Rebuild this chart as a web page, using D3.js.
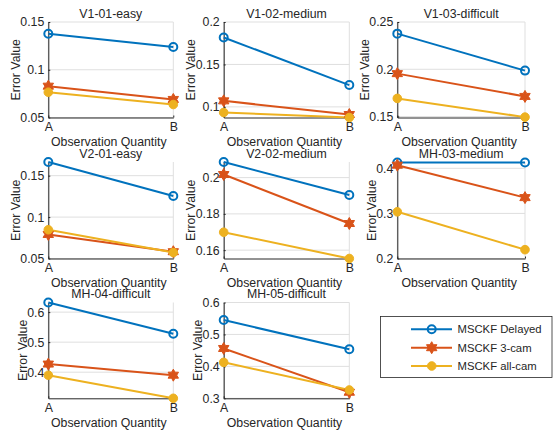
<!DOCTYPE html>
<html><head><meta charset="utf-8">
<script src="https://cdn.jsdelivr.net/npm/d3@7"></script>
<style>body{margin:0;background:#fff}svg{display:block}text{font-family:"Liberation Sans",Arial,sans-serif;fill:#262626}</style>
</head><body><svg id="c" width="560" height="433"></svg>
<script>
const datasetTitles = ["V1-01-easy","V1-02-medium","V1-03-difficult","V2-01-easy","V2-02-medium","MH-03-medium","MH-04-difficult","MH-05-difficult"];
const xCategories = ["A","B"];
const seriesNames = ["MSCKF Delayed","MSCKF 3-cam","MSCKF all-cam"];
const msckfDelayed = [[0.1377,0.1238],[0.1818,0.1257],[0.2377,0.1986],[0.1664,0.1254],[0.2086,0.1904],[0.413,0.413],[0.632,0.528],[0.545,0.4536]];
const msckf3cam    = [[0.0828,0.0689],[0.1071,0.0910],[0.1954,0.1713],[0.0790,0.0582],[0.2017,0.1747],[0.407,0.335],[0.427,0.390],[0.456,0.319]];
const msckfAllcam  = [[0.0765,0.0636],[0.0934,0.0875],[0.1692,0.1494],[0.0847,0.0572],[0.1699,0.1554],[0.3035,0.2196],[0.390,0.313],[0.4126,0.326]];
const yLimits = [[0.05,0.15],[0.0875,0.2],[0.149,0.25],[0.05,0.1665],[0.1554,0.2086],[0.2,0.414],[0.313,0.632],[0.3,0.6]];
const yTicks = [[0.05,0.1,0.15],[0.1,0.15,0.2],[0.15,0.2,0.25],[0.05,0.1,0.15],[0.16,0.18,0.2],[0.2,0.3,0.4],[0.4,0.5,0.6],[0.3,0.4,0.5,0.6]];

const colors = ["#0072BD","#D95319","#EDB120"];
const allSeries = [msckfDelayed, msckf3cam, msckfAllcam];
const colLeft = [48.3, 223.7, 397.3], colRight = [173.3, 349.3, 525];
const rowTop = [22, 162, 302.5], rowBot = [117.5, 258.5, 398.3];
const FS = 12.3;
const svg = d3.select("#c");

function hexagram(r){
  const pts=[];
  for(let i=0;i<12;i++){
    const a = -Math.PI/2 + i*Math.PI/6;
    const rr = i%2===0 ? r : r/Math.sqrt(3);
    pts.push([rr*Math.cos(a), rr*Math.sin(a)]);
  }
  return "M"+pts.map(p=>p.join(",")).join("L")+"Z";
}
function drawMarker(g, s, x, y){
  if(s===0){
    g.append("circle").attr("cx",x).attr("cy",y).attr("r",4).attr("fill","none").attr("stroke",colors[0]).attr("stroke-width",2);
  } else if(s===1){
    g.append("path").attr("d",hexagram(6)).attr("transform",`translate(${x},${y})`).attr("fill",colors[1]).attr("stroke",colors[1]).attr("stroke-width",1);
  } else {
    g.append("circle").attr("cx",x).attr("cy",y).attr("r",4.3).attr("fill",colors[2]).attr("stroke",colors[2]).attr("stroke-width",1);
  }
}

datasetTitles.forEach((title, i) => {
  const r = Math.floor(i/3), c = i%3;
  const x = d3.scalePoint().domain(xCategories).range([colLeft[c], colRight[c]]);
  const y = d3.scaleLinear().domain(yLimits[i]).range([rowBot[r], rowTop[r]]);
  const g = svg.append("g");
  // grid
  yTicks[i].forEach(t => {
    g.append("line").attr("x1",colLeft[c]).attr("x2",colRight[c]).attr("y1",y(t)).attr("y2",y(t)).attr("stroke","#dfdfdf").attr("stroke-width",1);
  });
  xCategories.forEach(cat => {
    g.append("line").attr("x1",x(cat)).attr("x2",x(cat)).attr("y1",rowTop[r]).attr("y2",rowBot[r]).attr("stroke","#dfdfdf").attr("stroke-width",1);
  });
  // axes
  const yAxis = d3.axisLeft(y).tickValues(yTicks[i]).tickFormat(d=>String(d)).tickSizeInner(-2).tickSizeOuter(0).tickPadding(4);
  const ya = g.append("g").attr("transform",`translate(${colLeft[c]},0)`).call(yAxis);
  const xAxis = d3.axisBottom(x).tickSizeInner(-2).tickSizeOuter(0).tickPadding(5);
  const xa = g.append("g").attr("transform",`translate(0,${rowBot[r]})`).call(xAxis);
  [ya,xa].forEach(a=>{
    a.select(".domain").attr("stroke","#262626").attr("stroke-width",1);
    a.selectAll(".tick line").attr("stroke","#262626");
    a.selectAll("text").attr("font-size",FS).attr("font-family","Liberation Sans, Arial, sans-serif").attr("fill","#262626");
  });
  let maxW = 0;
  ya.selectAll("text").each(function(){ maxW = Math.max(maxW, this.getComputedTextLength()); });
  // labels
  g.append("text").attr("x",(colLeft[c]+colRight[c])/2).attr("y",rowTop[r]-4.5).attr("text-anchor","middle").attr("font-size",FS).attr("fill","#000").text(title);
  g.append("text").attr("x",(colLeft[c]+colRight[c])/2 - 2).attr("y",rowBot[r]+28.5).attr("text-anchor","middle").attr("font-size",FS).text("Observation Quantity");
  const ly = (rowTop[r]+rowBot[r])/2, lx = colLeft[c] - 4 - maxW - 5;
  g.append("text").attr("transform",`translate(${lx},${ly}) rotate(-90)`).attr("text-anchor","middle").attr("dy","0.35em").attr("font-size",FS).text("Error Value");
  // data
  allSeries.forEach((ser, s) => {
    const vals = ser[i];
    const line = d3.line().x((d,k)=>x(xCategories[k])).y(d=>y(d));
    g.append("path").attr("d",line(vals)).attr("fill","none").attr("stroke",colors[s]).attr("stroke-width",2);
  });
  allSeries.forEach((ser, s) => {
    ser[i].forEach((v,k)=>drawMarker(g, s, x(xCategories[k]), y(v)));
  });
});

// legend
const lg = svg.append("g");
lg.append("rect").attr("x",380.5).attr("y",316.5).attr("width",171.5).attr("height",61).attr("fill","#fff").attr("stroke","#262626").attr("stroke-width",0.8);
const legY = [329.3, 347.7, 366];
seriesNames.forEach((name, s) => {
  lg.append("line").attr("x1",411).attr("x2",452).attr("y1",legY[s]).attr("y2",legY[s]).attr("stroke",colors[s]).attr("stroke-width",2);
  drawMarker(lg, s, 431.7, legY[s]);
  lg.append("text").attr("x",457.5).attr("y",legY[s]).attr("dy","0.35em").attr("font-size",11.3).attr("fill","#000").text(name);
});
</script></body></html>
